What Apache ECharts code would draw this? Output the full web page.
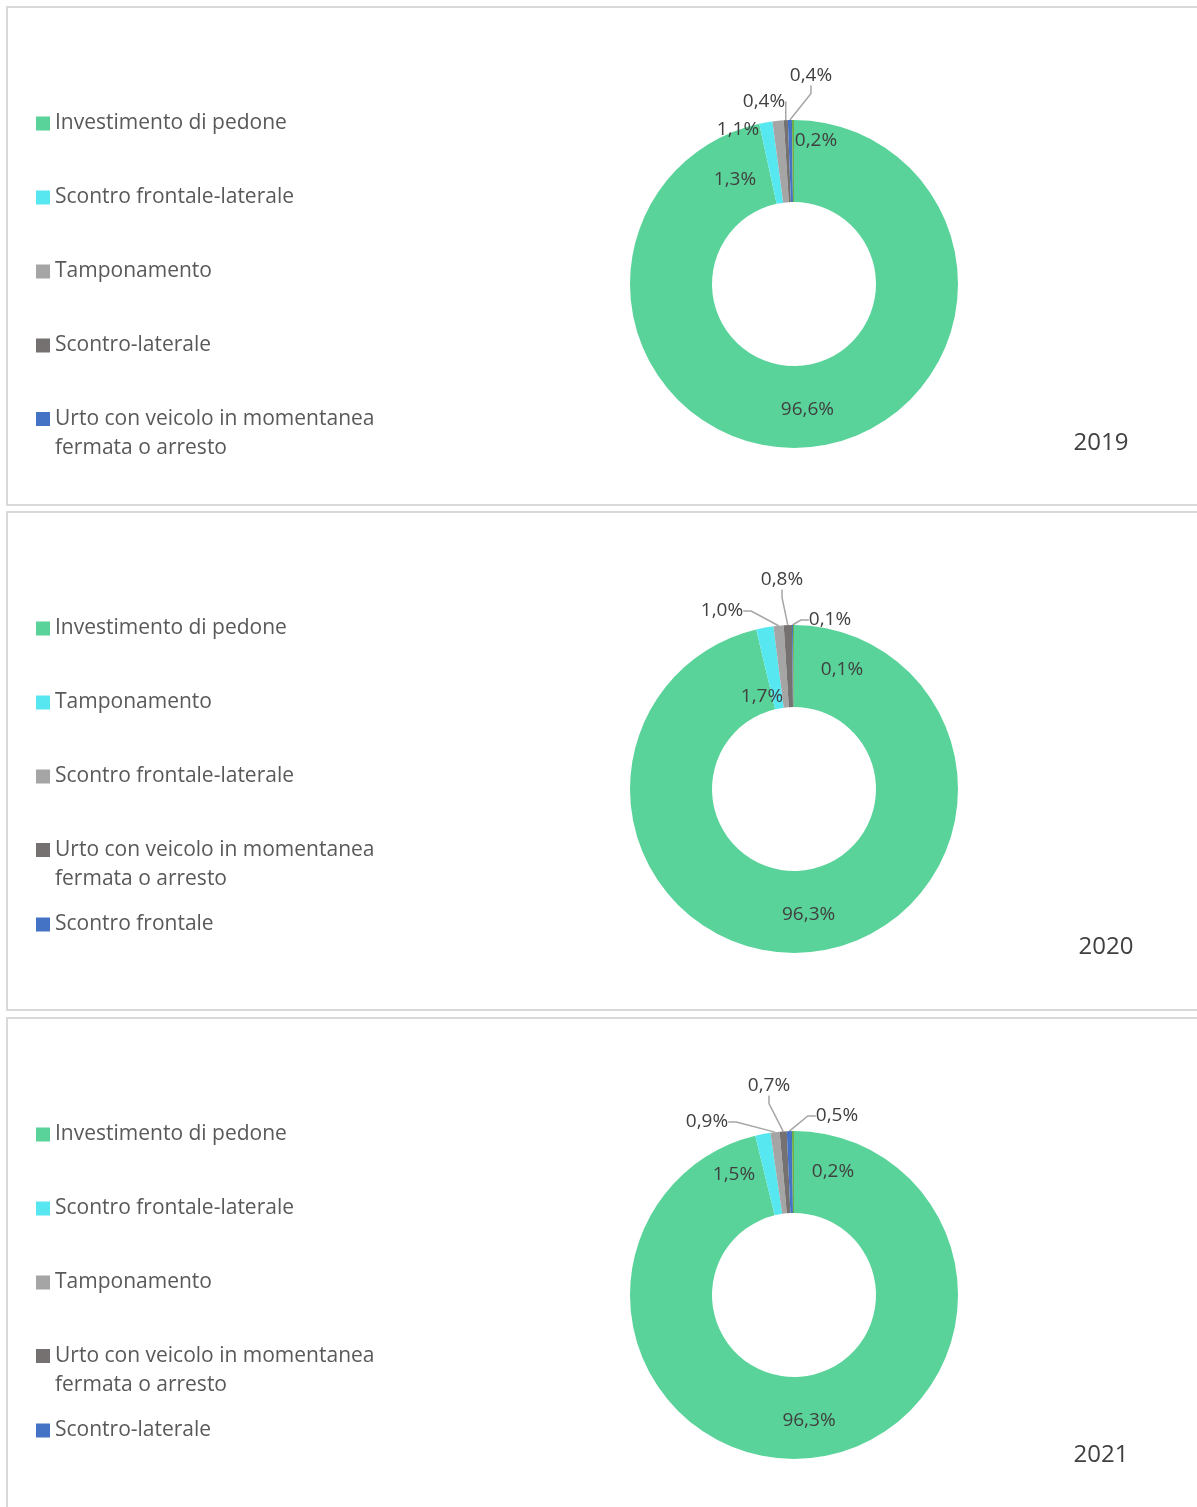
<!DOCTYPE html>
<html>
<head>
<meta charset="utf-8">
<script src="https://cdn.jsdelivr.net/npm/echarts@6/dist/echarts.min.js"></script>
<style>
html,body{margin:0;padding:0;background:#fff;}
#chart{width:1197px;height:1507px;}
</style>
</head>
<body>
<div id="chart"></div>
<script>
// ---------- DATA ----------
const years = ['2019', '2020', '2021'];

const cats2019 = ['Investimento di pedone', 'Scontro frontale-laterale', 'Tamponamento', 'Scontro-laterale', 'Urto con veicolo in momentanea fermata o arresto', 'Scontro frontale'];
const vals2019 = [96.6, 1.3, 1.1, 0.4, 0.4, 0.2];

const cats2020 = ['Investimento di pedone', 'Tamponamento', 'Scontro frontale-laterale', 'Urto con veicolo in momentanea fermata o arresto', 'Scontro frontale', 'Scontro-laterale'];
const vals2020 = [96.3, 1.7, 1.0, 0.8, 0.1, 0.1];

const cats2021 = ['Investimento di pedone', 'Scontro frontale-laterale', 'Tamponamento', 'Urto con veicolo in momentanea fermata o arresto', 'Scontro-laterale', 'Scontro frontale'];
const vals2021 = [96.3, 1.5, 0.9, 0.7, 0.5, 0.2];

// number of categories shown in each legend
const legendCount = 5;

// ---------- STYLE / LAYOUT ----------
const sliceColors = ['#59D399', '#57E7F1', '#A5A5A5', '#767171', '#4472C4', '#70AD47'];
const panelTops = [7, 512, 1018];
const centers = [[794, 284], [794, 789], [794, 1295]];
const legendFirstLine = [121, 626, 1132];
const legendStep = 74;
// label offsets from donut center (null = default inside placement)
const labelOffsets = [
  [null, [-59, -104], [-56, -154], [-30, -182], [17, -208], [22, -143]],
  [null, [-32, -92], [-72, -178], [-12, -209], [36, -169], [48, -119]],
  [null, [-60, -120], [-87, -173], [-25, -209], [43, -179], [39, -123]]
];
// which labels keep a leader line
const withLine = [
  [false, false, false, true, true, false],
  [false, false, true, true, true, true],
  [false, false, true, true, true, false]
];
const yearPos = [[1101, 443], [1106, 947], [1101, 1455]];

const FONT = '"Open Sans", "Noto Sans", sans-serif';
const allCats = [cats2019, cats2020, cats2021];
const allVals = [vals2019, vals2020, vals2021];

// square icon sitting on the first text line of a two-line legend entry
const ICON_TWO_LINE = 'path://M0,0L0.01,0L0.01,0.01Z M0,7.5L14,7.5L14,21.5L0,21.5Z M0,58L0.01,58L0.01,57.99Z';

function wrapName(n) {
  return n.replace(' fermata', '\nfermata');
}
function fmt(v) {
  return v.toFixed(1).replace('.', ',') + '%';
}

const series = [];
const legends = [];
const graphics = [];

allCats.forEach(function (cats, s) {
  const vals = allVals[s];
  const c = centers[s];
  series.push({
    type: 'pie',
    name: years[s],
    center: c,
    radius: [82, 164],
    startAngle: 90,
    clockwise: true,
    avoidLabelOverlap: false,
    animation: false,
    silent: true,
    emphasis: { scale: false, disabled: true },
    itemStyle: { borderWidth: 0 },
    label: {
      show: true,
      position: 'outside',
      color: '#404040',
      fontSize: 19,
      fontFamily: FONT,
      formatter: function (p) { return fmt(p.value); }
    },
    labelLine: {
      show: true,
      length: 12,
      length2: 8,
      lineStyle: { color: '#A6A6A6', width: 1.5 }
    },
    labelLayout: function (p) {
      const o = labelOffsets[s][p.dataIndex];
      if (!o) return {};
      return { x: c[0] + o[0], y: c[1] + o[1], align: 'center', verticalAlign: 'middle' };
    },
    data: cats.map(function (n, i) {
      const d = {
        name: n,
        value: vals[i],
        itemStyle: { color: sliceColors[i] }
      };
      if (i === 0) d.label = { position: 'inside' };
      if (!withLine[s][i]) d.labelLine = { show: false };
      return d;
    })
  });

  // one legend component per entry
  for (let i = 0; i < legendCount; i++) {
    const name = cats[i];
    const multi = wrapName(name) !== name;
    const lineY = legendFirstLine[s] + i * legendStep;
    legends.push({
      orient: 'vertical',
      left: 36,
      top: multi ? lineY - 12.5 : lineY - 12,
      padding: 0,
      itemWidth: 14,
      itemHeight: multi ? 58 : 14,
      itemGap: 0,
      icon: multi ? ICON_TWO_LINE : 'rect',
      selectedMode: false,
      formatter: wrapName,
      textStyle: {
        color: '#595959',
        fontSize: 21,
        fontFamily: FONT,
        lineHeight: 29
      },
      data: [{
        name: name,
        itemStyle: { color: sliceColors[i] }
      }]
    });
  }

  graphics.push({
    type: 'rect',
    shape: { x: 7, y: panelTops[s], width: 1300, height: s === 2 ? 600 : 498 },
    style: { fill: 'transparent', stroke: '#D9D9D9', lineWidth: 2 },
    silent: true
  });
  graphics.push({
    type: 'text',
    x: yearPos[s][0],
    y: yearPos[s][1],
    style: {
      text: years[s],
      fill: '#404040',
      fontSize: 24,
      fontFamily: FONT,
      align: 'center',
      verticalAlign: 'middle'
    },
    silent: true
  });
});

const chart = echarts.init(document.getElementById('chart'), null, { renderer: 'canvas' });
chart.setOption({
  backgroundColor: '#ffffff',
  animation: false,
  tooltip: { show: false },
  legend: legends,
  graphic: graphics,
  series: series
});
</script>
</body>
</html>
